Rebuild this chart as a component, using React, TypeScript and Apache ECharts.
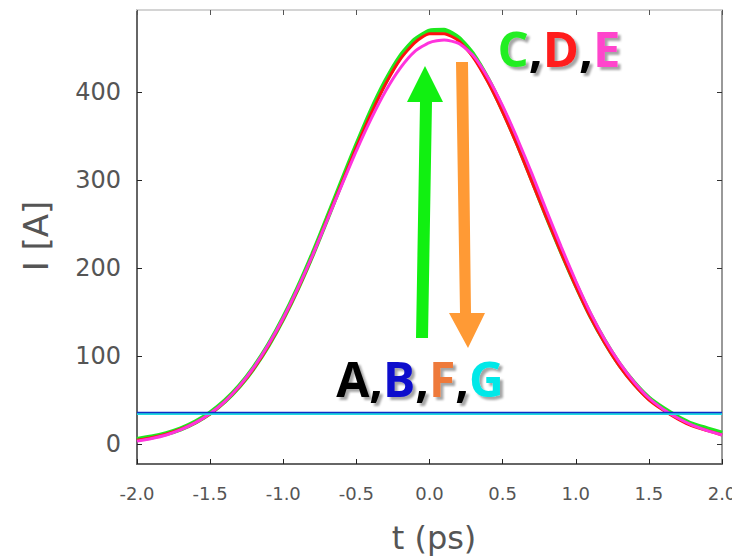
import React, { useEffect, useRef } from "react";
import * as echarts from "echarts";

// time axis (ps)
const tValues = [
  -2.0, -1.9, -1.8, -1.7, -1.6, -1.5, -1.4, -1.3, -1.2, -1.1, -1.0, -0.9, -0.8, -0.7,
  -0.6, -0.5, -0.4, -0.3, -0.2, -0.1, 0.0, 0.1, 0.2, 0.3, 0.4, 0.5, 0.6, 0.7, 0.8, 0.9,
  1.0, 1.1, 1.2, 1.3, 1.4, 1.5, 1.6, 1.7, 1.8, 1.9, 2.0,
];
// current I [A]
const curveC = [
  5, 7.7, 11.6, 17, 24.8, 35, 48.4, 65.5, 86.8, 112.5, 142.7, 177, 215, 256, 298, 339,
  378, 412, 440, 459, 469, 470, 461, 442, 414, 380, 342, 301, 259, 219, 181, 146, 116,
  90, 69, 52, 40, 30, 22, 17, 12,
];
const curveD = [
  4, 7, 11, 16.5, 24, 34, 48, 65, 86, 112, 142, 176, 214, 255, 296, 337, 375, 409, 437,
  456, 466, 466, 458, 439, 411, 377, 339, 298, 257, 217, 179, 144, 114, 88, 67, 50, 38,
  28, 20, 15, 10,
];
const curveE = [
  3, 6, 10, 16, 24, 34.5, 48, 65.5, 87, 113, 143, 177, 214, 254, 294, 333, 369, 401,
  427, 446, 456, 459, 455, 441, 416, 384, 347, 307, 265, 224, 185, 149, 118, 92, 70, 52,
  39, 29, 21, 15, 10,
];
const flatT = [-2.0, 2.0];
const flatA = [35, 35];
const flatF = [35, 35];
const flatG = [34.2, 34.2];
const flatB = [35.6, 35.6];

const yTicks = [0, 100, 200, 300, 400];

const pairs = (xs: number[], ys: number[]) => xs.map((x, i) => [x, ys[i]]);

const FONT = "DejaVu Sans";
const BOLD = "Open Sans";

export default function App() {
  const ref = useRef<HTMLDivElement>(null);
  useEffect(() => {
    if (!ref.current) return;
    const chart = echarts.init(ref.current, undefined, { renderer: "svg" });
    const lineSeries = (name: string, xs: number[], ys: number[], color: string, width: number) => ({
      name,
      type: "line",
      data: pairs(xs, ys),
      showSymbol: false,
      smooth: 0.2,
      lineStyle: { color, width },
      itemStyle: { color },
      xAxisIndex: 0,
      yAxisIndex: 0,
    });
    const shadow = { textShadowColor: "rgba(0,0,0,0.35)", textShadowBlur: 2, textShadowOffsetX: 3, textShadowOffsetY: 3 };
    chart.setOption({
      animation: false,
      backgroundColor: "#ffffff",
      grid: { left: 137, right: 10, top: 10, bottom: 93, containLabel: false, outerBoundsMode: "none" },
      xAxis: [
        {
          type: "value",
          min: -2,
          max: 2,
          interval: 0.5,
          position: "bottom",
          axisLine: { show: true, onZero: false, lineStyle: { color: "#666", width: 2 } },
          axisTick: { show: true, inside: true, length: 5, lineStyle: { color: "#222" } },
          axisLabel: {
            fontFamily: FONT,
            fontSize: 18,
            color: "#555",
            margin: 20,
            formatter: (v: number) => v.toFixed(1),
            showMinLabel: true,
            showMaxLabel: true,
          },
          splitLine: { show: false },
        },
        {
          type: "value",
          min: -2,
          max: 2,
          interval: 0.5,
          position: "top",
          axisLine: { show: true, onZero: false, lineStyle: { color: "#d4d4d4", width: 2 } },
          axisTick: { show: true, inside: true, length: 5, lineStyle: { color: "#555" } },
          axisLabel: { show: false },
          splitLine: { show: false },
        },
      ],
      yAxis: [
        {
          type: "value",
          min: -23,
          max: 493,
          position: "left",
          axisLine: { show: true, onZero: false, lineStyle: { color: "#666", width: 2 } },
          axisTick: { show: true, inside: true, length: 5, customValues: yTicks, lineStyle: { color: "#222" } },
          axisLabel: { fontFamily: FONT, fontSize: 24, color: "#555", margin: 16, customValues: yTicks },
          splitLine: { show: false },
        },
        {
          type: "value",
          min: -23,
          max: 493,
          position: "right",
          axisLine: { show: true, onZero: false, lineStyle: { color: "#999", width: 2 } },
          axisTick: { show: true, inside: true, length: 5, customValues: yTicks, lineStyle: { color: "#333" } },
          axisLabel: { show: false },
          splitLine: { show: false },
        },
      ],
      series: [
        lineSeries("C", tValues, curveC, "#1ee81e", 5),
        lineSeries("D", tValues, curveD, "#ff1010", 3),
        lineSeries("E", tValues, curveE, "#ff33dd", 3),
        lineSeries("A", flatT, flatA, "#000000", 2),
        lineSeries("F", flatT, flatF, "#ee7a3a", 2),
        lineSeries("G", flatT, flatG, "#1fd8e0", 2.5),
        lineSeries("B", flatT, flatB, "#1030c8", 1.5),
      ],
      graphic: [
        {
          type: "polygon",
          shape: {
            points: [
              [416, 338], [428, 338], [432, 102], [443, 102], [425, 66], [407, 102], [420, 102],
            ],
          },
          style: { fill: "#11f011" },
          z: 50,
        },
        {
          type: "polygon",
          shape: {
            points: [
              [456, 62], [468, 62], [471, 313], [485, 313], [468, 348], [449, 313], [460, 313],
            ],
          },
          style: { fill: "#ff9a35" },
          z: 50,
        },
        {
          type: "text",
          x: 559,
          y: 48,
          z: 60,
          style: {
            text: "{c|C}{k|,}{d|D}{k|,}{e|E}",
            align: "center",
            verticalAlign: "middle",
            rich: {
              c: { fill: "#22ee22", fontFamily: BOLD, fontWeight: "bold", fontSize: 49, ...shadow },
              k: { fill: "#000000", fontFamily: BOLD, fontWeight: "bold", fontSize: 49, ...shadow },
              d: { fill: "#ff1a1a", fontFamily: BOLD, fontWeight: "bold", fontSize: 49, ...shadow },
              e: { fill: "#ff44cc", fontFamily: BOLD, fontWeight: "bold", fontSize: 49, ...shadow },
            },
          },
        },
        {
          type: "text",
          x: 420,
          y: 378,
          z: 60,
          style: {
            text: "{a|A}{k|,}{b|B}{k|,}{f|F}{k|,}{g|G}",
            align: "center",
            verticalAlign: "middle",
            rich: {
              a: { fill: "#000000", fontFamily: BOLD, fontWeight: "bold", fontSize: 48, ...shadow },
              k: { fill: "#000000", fontFamily: BOLD, fontWeight: "bold", fontSize: 48, ...shadow },
              b: { fill: "#0a0acc", fontFamily: BOLD, fontWeight: "bold", fontSize: 48, ...shadow },
              f: { fill: "#ee7a3a", fontFamily: BOLD, fontWeight: "bold", fontSize: 48, ...shadow },
              g: { fill: "#00e8e8", fontFamily: BOLD, fontWeight: "bold", fontSize: 48, ...shadow },
            },
          },
        },
        {
          type: "text",
          x: 434,
          y: 538,
          style: { text: "t (ps)", fontFamily: FONT, fontSize: 32, fill: "#555", align: "center", verticalAlign: "middle" },
        },
        {
          type: "text",
          x: 36,
          y: 236,
          rotation: Math.PI / 2,
          style: { text: "I [A]", fontFamily: FONT, fontSize: 34, fill: "#555", align: "center", verticalAlign: "middle" },
        },
      ],
    });
    return () => chart.dispose();
  }, []);
  return <div ref={ref} style={{ width: 732, height: 557, position: "absolute", left: 0, top: 0 }} />;
}
